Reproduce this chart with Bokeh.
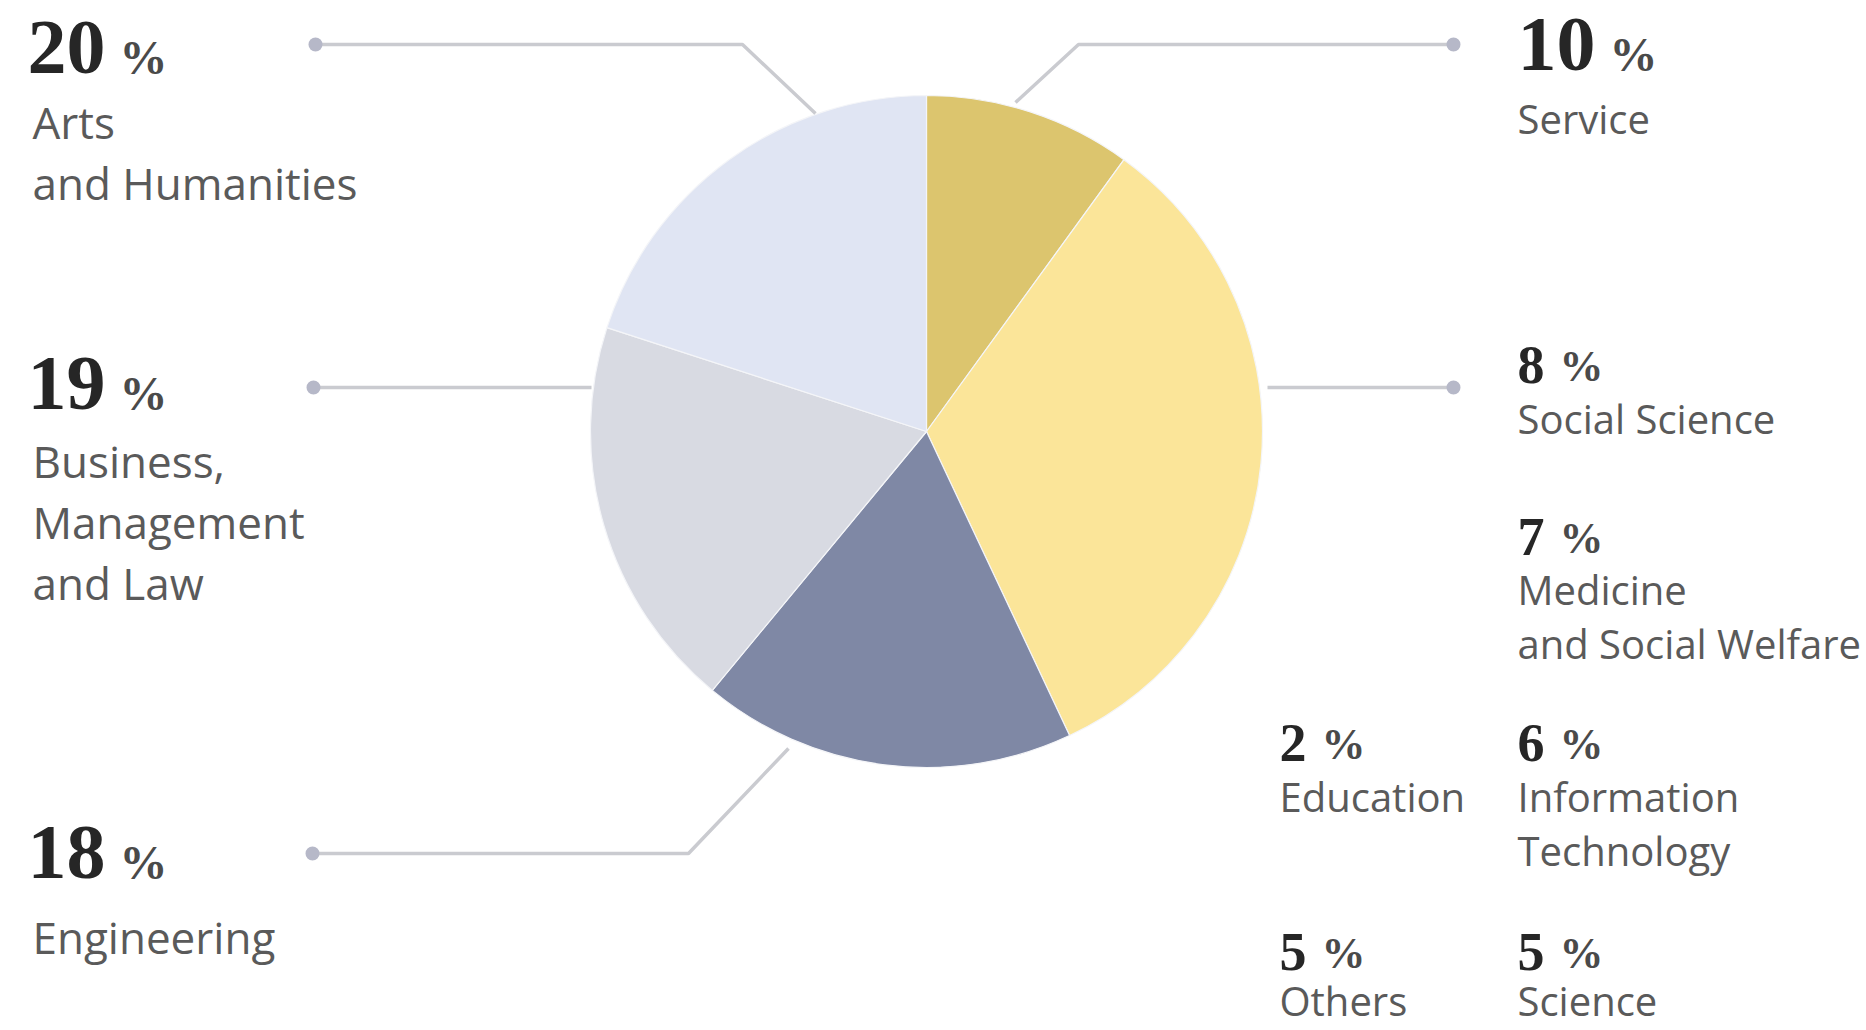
import math
from bokeh.plotting import figure
from bokeh.models import Range1d, ColumnDataSource
from bokeh.core.properties import value
from bokeh.embed import file_html
from bokeh.resources import INLINE

# ---------------- data ----------------
categories = ["Arts\nand Humanities", "Business,\nManagement\nand Law", "Engineering",
              "Service", "Social Science", "Medicine\nand Social Welfare",
              "Information\nTechnology", "Education", "Others", "Science"]
shares = [20, 19, 18, 10, 8, 7, 6, 2, 5, 5]
# which pie slice each category belongs to
slice_of = ["Arts", "Business", "Engineering", "Service", "Rest", "Rest", "Rest", "Rest", "Rest", "Rest"]
slice_order = ["Service", "Rest", "Engineering", "Business", "Arts"]
slice_colors = ["#DCC56E", "#FBE599", "#7F88A5", "#D8DAE2", "#E0E5F3"]

# ---------------- layout (screen px of the page) ----------------
W, H = 1866, 1030
def sy(y):
    return H - y

CX, CY, R = 926, 431, 336

# number x, number baseline, big?, label x, first label baseline, line spacing
label_pos = [
    (27, 72, True, 32, 138, 61),
    (27, 408, True, 32, 477, 61),
    (27, 877, True, 32, 953, 61),
    (1517, 69, True, 1517, 134, 54),
    (1517, 381, False, 1517, 434, 54),
    (1517, 553, False, 1517, 605, 54),
    (1517, 759, False, 1517, 812, 54),
    (1279, 759, False, 1279, 812, 54),
    (1279, 968, False, 1279, 1016, 54),
    (1517, 968, False, 1517, 1016, 54),
]

leaders = [
    [(315, 44), (742, 44), (815, 113)],
    [(1453, 44), (1078, 44), (1015, 102)],
    [(1453, 387), (1267, 387)],
    [(313, 387), (591, 387)],
    [(312, 853), (688, 853), (788, 748)],
]

p = figure(width=W, height=H, output_backend="svg", toolbar_location=None,
           x_range=Range1d(0, W), y_range=Range1d(0, H),
           min_border=0, border_fill_color="white", background_fill_color="white")
p.axis.visible = False
p.grid.visible = False
p.outline_line_color = None

# ---------------- pie ----------------
slice_vals = [sum(v for v, s in zip(shares, slice_of) if s == name) for name in slice_order]
total = sum(slice_vals)
starts, ends = [], []
cum = 0.0
for v in slice_vals:
    a0 = math.pi / 2 - 2 * math.pi * cum / total
    cum += v
    a1 = math.pi / 2 - 2 * math.pi * cum / total
    starts.append(a0)
    ends.append(a1)
src = ColumnDataSource(dict(x=[CX] * len(slice_vals), y=[sy(CY)] * len(slice_vals),
                            start=starts, end=ends, color=slice_colors))
p.wedge(x="x", y="y", radius=R, start_angle="start", end_angle="end", direction="clock",
        fill_color="color", line_color="#F4F5F8", line_width=1.2, source=src)

# ---------------- leader lines ----------------
for pts in leaders:
    p.line([q[0] for q in pts], [sy(q[1]) for q in pts], line_color="#CACBD0", line_width=3.5)
    p.scatter([pts[0][0]], [sy(pts[0][1])], size=14, fill_color="#B6B8C8", line_color=None)

# ---------------- labels ----------------
# empirical correction of the rendered alphabetic baseline (px upward)
lift = {"num_big": 25, "num_small": 17, "pct": 15, "lab_left": 17, "lab_right": 16}

for cat, val, (nx, ny, big, lx, ly, ls) in zip(categories, shares, label_pos):
    fs = 78 if big else 54
    digits = str(val)
    nl = lift["num_big"] if big else lift["num_small"]
    p.text([nx], [sy(ny - nl)], text=[digits], text_font=value("Liberation Serif"), text_font_style="bold",
           text_font_size=f"{fs}px", text_color="#262626", text_baseline="alphabetic", text_align="left")
    px = nx + len(digits) * 0.5 * fs + (14 if big else 15)
    pfs = 48 if big else 44
    p.text([px], [sy(ny - lift["pct"])], text=["%"], text_font=value("Liberation Serif"), text_font_style="bold",
           text_font_size=f"{pfs}px", text_color="#4A4A4A", text_baseline="alphabetic", text_align="left")
    left = lx < 600
    lfs = 44 if left else 40
    ll = lift["lab_left"] if left else lift["lab_right"]
    for i, line in enumerate(cat.split("\n")):
        p.text([lx], [sy(ly + i * ls - ll)], text=[line], text_font=value("Open Sans"),
               text_font_size=f"{lfs}px", text_color="#5A5A5A", text_baseline="alphabetic",
               text_align="left")

open("out.html", "w").write(file_html(p, INLINE))
